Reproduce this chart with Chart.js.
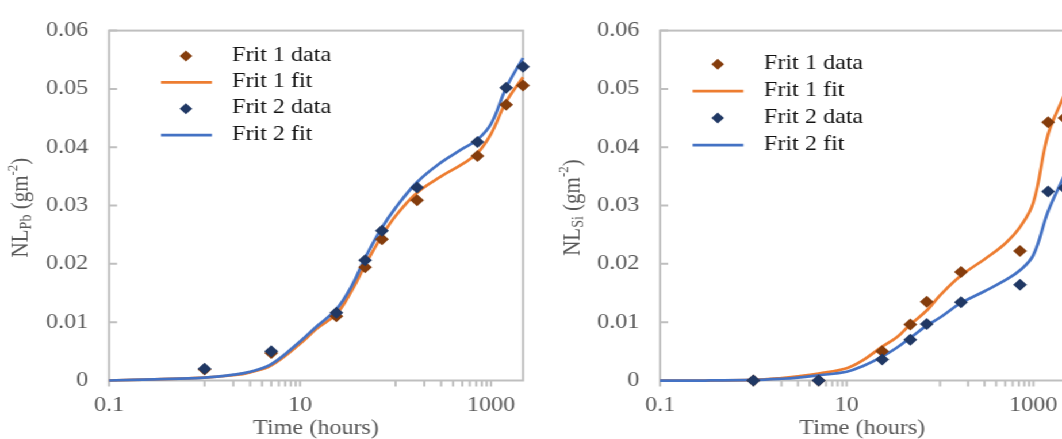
<!DOCTYPE html>
<html><head><meta charset="utf-8">
<script src="https://cdn.jsdelivr.net/npm/chart.js@4.4.1/dist/chart.umd.min.js"></script>
<style>
html,body{margin:0;padding:0;background:#fff;overflow:hidden;width:1062px;height:439px;}
#wrap{position:absolute;left:0;top:0;width:940px;height:439px;transform:scaleX(1.15);transform-origin:0 0;}
#c1{position:absolute;left:0;top:0;}
#c2{position:absolute;left:480px;top:0;}
</style></head><body>
<div id="wrap"><canvas id="c1" width="480" height="439"></canvas><canvas id="c2" width="460" height="439"></canvas></div>
<script>
// ---- data ----
const times = [1, 5, 24, 48, 72, 168, 720, 1440, 2160];
const pbFrit1 = [0.0019, 0.0047, 0.0110, 0.0194, 0.0242, 0.0309, 0.0385, 0.0473, 0.0506];
const pbFrit2 = [0.0020, 0.0050, 0.0116, 0.0206, 0.0257, 0.0331, 0.0409, 0.0502, 0.0538];
const siFrit1 = [0, 0, 0.0050, 0.0096, 0.0135, 0.0186, 0.0222, 0.0443, 0.0450];
const siFrit2 = [0, 0, 0.0036, 0.0070, 0.0097, 0.0134, 0.0164, 0.0324, 0.0330];

const fitTimes = [0.1, 0.3, 1, 2, 3, 5, 10, 15, 24, 35, 48, 72, 100, 168, 300, 500, 720, 1000, 1440, 2160];
const pbFit1 = [0, 0.0002, 0.0005, 0.0009, 0.0014, 0.0026, 0.0063, 0.0089, 0.0114, 0.0155, 0.0198, 0.0248, 0.0282, 0.0322, 0.0350, 0.0371, 0.0390, 0.0423, 0.0478, 0.0520];
const pbFit2 = [0, 0.0002, 0.0005, 0.0010, 0.0015, 0.0028, 0.0067, 0.0093, 0.0122, 0.0163, 0.0210, 0.0262, 0.0296, 0.0340, 0.0374, 0.0397, 0.0413, 0.0440, 0.0502, 0.0553];
const siFit1 = [0, 0, 0.0001, 0.0004, 0.0007, 0.0012, 0.0021, 0.0035, 0.0058, 0.0075, 0.0096, 0.0120, 0.0146, 0.0180, 0.0208, 0.0235, 0.0263, 0.0305, 0.0422, 0.0490];
const siFit2 = [0, 0, 0.0001, 0.0003, 0.0005, 0.0009, 0.0015, 0.0025, 0.0041, 0.0057, 0.0073, 0.0094, 0.0108, 0.0133, 0.0153, 0.0172, 0.0189, 0.0215, 0.0290, 0.0352];

const xTickLabels = [0.1, 10, 1000];
const xMinorTicks = [1, 2, 3, 4, 5, 6, 7, 8, 9, 100, 200, 300, 400, 500, 600, 700, 800, 900];
const yTicks = [0, 0.01, 0.02, 0.03, 0.04, 0.05, 0.06];
const seriesLabels = ['Frit 1 data', 'Frit 1 fit', 'Frit 2 data', 'Frit 2 fit'];

// ---- styles ----
const FONT = '"Liberation Serif", "Times New Roman", serif';
const FS = 21;
const AXIS_COLOR = '#BFBFBF';
const TEXT_GREY = '#595959';
const C1D = '#843C0C', C1F = '#ED7D31', C2D = '#203864', C2F = '#4472C4';

const decorPlugin = {
  id: 'decor',
  beforeDatasetsDraw(chart) {
    const {ctx, chartArea: a, scales: {x, y}} = chart;
    ctx.save();
    ctx.strokeStyle = AXIS_COLOR;
    ctx.lineWidth = 2;
    ctx.strokeRect(a.left, a.top, a.right - a.left, a.bottom - a.top);
    ctx.beginPath();
    xMinorTicks.concat(xTickLabels).forEach(v => {
      const px = x.getPixelForValue(v);
      ctx.moveTo(px, a.bottom); ctx.lineTo(px, a.bottom + 6);
    });
    yTicks.forEach(v => {
      const py = y.getPixelForValue(v);
      ctx.moveTo(a.left, py); ctx.lineTo(a.left + 7, py);
    });
    ctx.stroke();
    ctx.restore();
  },
  afterDraw(chart, args, o) {
    const {ctx, chartArea: a} = chart;
    ctx.save();
    // legend
    ctx.font = FS + 'px ' + FONT;
    ctx.textBaseline = 'middle';
    ctx.textAlign = 'left';
    chart.data.datasets.forEach((ds, i) => {
      const yy = o.legendY + i * o.legendGap;
      if (ds.showLine) {
        ctx.strokeStyle = ds.borderColor; ctx.lineWidth = 2.75;
        ctx.beginPath(); ctx.moveTo(o.lineX0, yy); ctx.lineTo(o.lineX1, yy); ctx.stroke();
      } else {
        ctx.fillStyle = ds.backgroundColor;
        const r = 5.5;
        ctx.beginPath();
        ctx.moveTo(o.markX, yy - r); ctx.lineTo(o.markX + r, yy);
        ctx.lineTo(o.markX, yy + r); ctx.lineTo(o.markX - r, yy); ctx.closePath(); ctx.fill();
      }
      ctx.fillStyle = '#111';
      ctx.fillText(ds.label, o.textX, yy - 1);
    });
    // x title
    ctx.fillStyle = TEXT_GREY;
    ctx.textAlign = 'center';
    ctx.font = FS + 'px ' + FONT;
    ctx.fillText('Time (hours)', (a.left + a.right) / 2, 428);
    // y title with subscript / superscript
    const parts = [
      {t: 'NL', f: FS + 'px ', dy: 0},
      {t: o.sub, f: '14px ', dy: 5},
      {t: ' (gm', f: FS + 'px ', dy: 0},
      {t: '-2', f: '13px ', dy: -7},
      {t: ')', f: FS + 'px ', dy: 0}
    ];
    let total = 0;
    parts.forEach(p => { ctx.font = p.f + FONT; p.w = ctx.measureText(p.t).width; total += p.w; });
    ctx.translate(a.left - 76, (a.top + a.bottom) / 2 + 2);
    ctx.rotate(-Math.PI / 2);
    ctx.textAlign = 'left';
    let cx = -total / 2;
    parts.forEach(p => { ctx.font = p.f + FONT; ctx.fillText(p.t, cx, p.dy); cx += p.w; });
    ctx.restore();
  }
};

function pts(xs, ys) { return xs.map((t, i) => ({x: t, y: ys[i]})); }

function makeChart(id, d1, f1, d2, f2, cfg) {
  const fitStyle = {type: 'line', borderWidth: 2.75, pointRadius: 0, tension: 0.4, fill: false, clip: false, showLine: true};
  return new Chart(document.getElementById(id), {
    type: 'scatter',
    data: {datasets: [
      {label: seriesLabels[0], data: pts(times, d1), backgroundColor: C1D, borderColor: C1D, pointStyle: 'rectRot', pointRadius: 6, borderWidth: 0, order: 1, clip: false, showLine: false},
      Object.assign({label: seriesLabels[1], data: pts(fitTimes, f1), borderColor: C1F, backgroundColor: C1F, order: 3}, fitStyle),
      {label: seriesLabels[2], data: pts(times, d2), backgroundColor: C2D, borderColor: C2D, pointStyle: 'rectRot', pointRadius: 6, borderWidth: 0, order: 0, clip: false, showLine: false},
      Object.assign({label: seriesLabels[3], data: pts(fitTimes, f2), borderColor: C2F, backgroundColor: C2F, order: 2}, fitStyle)
    ]},
    options: {
      responsive: false, animation: false, devicePixelRatio: 1,
      layout: {padding: {left: 0, top: 25.5, right: cfg.padRight, bottom: 0}},
      plugins: {legend: {display: false}, tooltip: {enabled: false}, decor: cfg.decor},
      scales: {
        x: {type: 'logarithmic', min: 0.1, max: 2160, position: 'bottom',
          grid: {display: false, drawTicks: false}, border: {display: false},
          afterBuildTicks: s => { s.ticks = xTickLabels.map(v => ({value: v})); },
          afterFit: s => { s.height = 58.5; },
          ticks: {autoSkip: false, maxRotation: 0, minRotation: 0, padding: 12, color: TEXT_GREY,
            font: {family: FONT, size: FS}, callback: v => String(v)}},
        y: {type: 'linear', min: 0, max: 0.06,
          grid: {display: false, drawTicks: false}, border: {display: false},
          afterBuildTicks: s => { s.ticks = yTicks.map(v => ({value: v})); },
          afterFit: s => { s.width = cfg.axisLeft; },
          ticks: {padding: 18, color: TEXT_GREY, font: {family: FONT, size: FS},
            callback: v => v === 0 ? '0' : v.toFixed(2)}}
      }
    },
    plugins: [decorPlugin]
  });
}

makeChart('c1', pbFrit1, pbFit1, pbFrit2, pbFit2, {
  padRight: 25.2, axisLeft: 94.8,
  decor: {sub: 'Pb', legendY: 56, legendGap: 26.4, markX: 161.7, lineX0: 140, lineX1: 184.3, textX: 201.7}
});
makeChart('c2', siFrit1, siFit1, siFrit2, siFit2, {
  padRight: 14.3, axisLeft: 94,
  decor: {sub: 'Si', legendY: 64.3, legendGap: 26.9, markX: 144.1, lineX0: 122.3, lineX1: 166.4, textX: 184.3}
});
</script>
</body></html>
